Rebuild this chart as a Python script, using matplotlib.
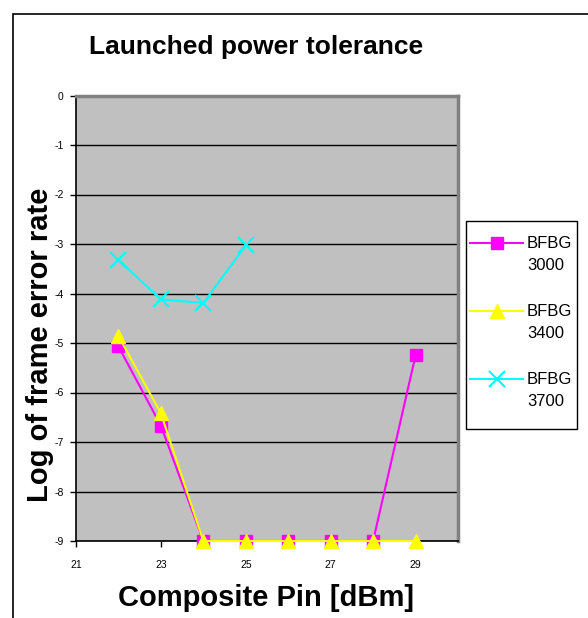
import matplotlib
matplotlib.use("Agg")
import matplotlib.pyplot as plt
from matplotlib.lines import Line2D
from matplotlib.patches import Rectangle

plt.rcParams['font.family'] = ['Liberation Sans', 'DejaVu Sans']

x_pin = [22, 23, 24, 25, 26, 27, 28, 29]
bfbg3000 = [-5.07, -6.67, -9, -9, -9, -9, -9, -5.25]
bfbg3400 = [-4.86, -6.42, -9, -9, -9, -9, -9, -9]
x_3700 = [22, 23, 24, 25]
bfbg3700 = [-3.32, -4.12, -4.19, -3.03]
series_names = ["BFBG\n3000", "BFBG\n3400", "BFBG\n3700"]
series_colors = ['#FF00FF', '#FFFF00', '#00FFFF']
xticks = [21, 23, 25, 27, 29]
yticks = [0, -1, -2, -3, -4, -5, -6, -7, -8, -9]

W, H = 588, 618
fig = plt.figure(figsize=(W / 100, H / 100), dpi=100)
fig.patch.set_facecolor('white')

# outer frame (cropped chart border)
fig.patches.append(Rectangle((13 / W, -0.1), 1.2, 1 - 14 / H + 0.1,
                             transform=fig.transFigure, fill=False,
                             edgecolor='black', linewidth=1.2))

ax = fig.add_axes([76 / W, 1 - 541 / H, (458 - 76) / W, (541 - 95.5) / H])
ax.set_facecolor('#C0C0C0')
ax.set_xlim(21, 30)
ax.set_ylim(-9, 0)
ax.set_yticks(yticks)
ax.set_xticks(xticks)
ax.set_yticklabels([str(v) for v in yticks], fontsize=7.5)
ax.set_xticklabels([str(v) for v in xticks], fontsize=7.5)
ax.yaxis.grid(True, color='black', linewidth=1)
ax.set_axisbelow(True)
for s in ['top', 'right']:
    ax.spines[s].set_color('#808080')
    ax.spines[s].set_linewidth(2.5)
for s in ['left', 'bottom']:
    ax.spines[s].set_color('black')
    ax.spines[s].set_linewidth(1.2)
ax.tick_params(axis='both', direction='out', length=4, width=1, color='black')
ax.tick_params(axis='x', pad=10)
ax.tick_params(axis='y', pad=5)

ax.plot(x_pin, bfbg3000, color=series_colors[0], marker='s', markersize=8,
        linewidth=1.5, clip_on=False, zorder=3)
ax.plot(x_pin, bfbg3400, color=series_colors[1], marker='^', markersize=10,
        linewidth=1.5, clip_on=False, zorder=4)
ax.plot(x_3700, bfbg3700, color=series_colors[2], marker='x', markersize=11,
        markeredgewidth=1.5, linewidth=1.5, clip_on=False, zorder=5)

# legend (drawn manually in figure pixel coordinates)
fig.patches.append(Rectangle((465.5 / W, 1 - 429 / H), (577 - 465.5) / W, (429 - 221) / H,
                             transform=fig.transFigure, fill=False,
                             edgecolor='black', linewidth=1.0))
markers = [dict(marker='s', markersize=8), dict(marker='^', markersize=10),
           dict(marker='x', markersize=11, markeredgewidth=1.5)]
for i, (name, col, mk) in enumerate(zip(series_names, series_colors, markers)):
    yc = 243 + 68 * i
    fig.add_artist(Line2D([470 / W, 523 / W], [1 - yc / H, 1 - yc / H],
                          transform=fig.transFigure, color=col, linewidth=1.5))
    fig.add_artist(Line2D([496.5 / W], [1 - yc / H], transform=fig.transFigure,
                          color=col, linestyle='none', **mk))
    for j, line in enumerate(name.split("\n")):
        fig.text(527 / W, 1 - (yc + 23 * j) / H, line, fontsize=12,
                 ha='left', va='center')

fig.text(256 / W, 1 - 47 / H, "Launched power tolerance", fontsize=19,
         fontweight='bold', ha='center', va='center')
fig.text(266 / W, 1 - 598 / H, "Composite Pin [dBm]", fontsize=21,
         fontweight='bold', ha='center', va='center')
fig.text(40 / W, 1 - 345 / H, "Log of frame error rate", fontsize=21,
         fontweight='bold', ha='center', va='center', rotation=90)

fig.savefig("out.png", dpi=100)
